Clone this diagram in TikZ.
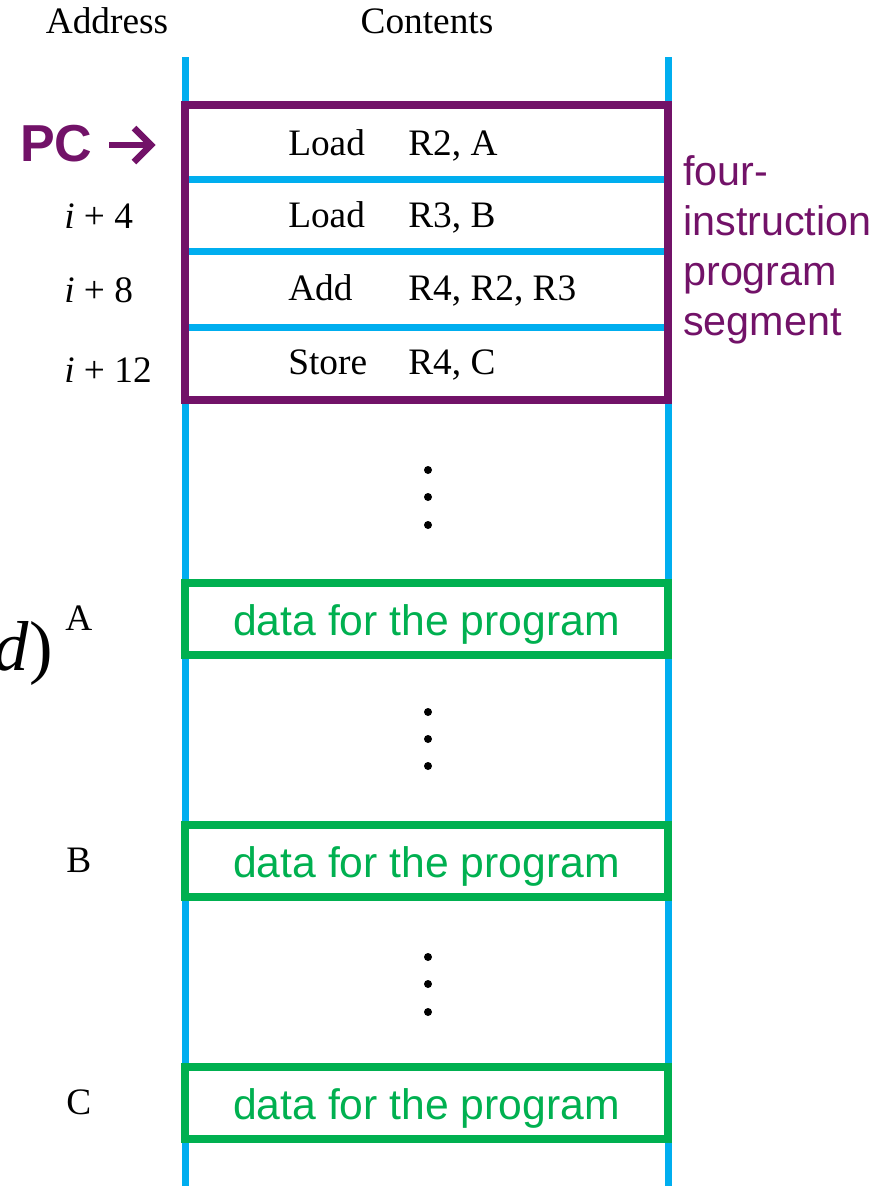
\documentclass[tikz,border=0pt]{standalone}
\usepackage{fontspec}
\setmainfont{Liberation Serif}
\setsansfont{Liberation Sans}
\definecolor{memblue}{RGB}{0,174,239}
\definecolor{segpurple}{RGB}{114,18,104}
\definecolor{datagreen}{RGB}{0,176,80}
\tikzset{
  memline/.style={draw=memblue, line width=5.25pt},
  segbox/.style={draw=segpurple, line width=6pt},
  serif/.style={font=\fontsize{28}{34}\selectfont, inner sep=0pt, anchor=base west},
  databox/.style={draw=datagreen, line width=6pt, minimum width=362.25pt, minimum height=54pt,
    text height=24pt, text depth=0pt, inner sep=0pt, text=datagreen,
    font=\sffamily\fontsize{32}{38}\selectfont},
  pcarrow/.style={draw=segpurple, line width=5pt, miter limit=10},
  memdot/.style={fill=black}
}
\begin{document}
\begin{tikzpicture}[x=0.75pt,y=-0.75pt]
\useasboundingbox (0,0) rectangle (875,1186);
% memory column
\coordinate (lt) at (185,57);
\coordinate (lb) at (185,1190);
\coordinate (rt) at (668,57);
\coordinate (rb) at (668,1190);
\draw[memline] (lt) -- (lb);
\draw[memline] (rt) -- (rb);
\foreach \yy in {179,251,327}{
  \draw[memline] (185,\yy) -- (668,\yy);
}
% headers
\node[serif, anchor=base] (hAddr) at (107,33) {Address};
\node[serif, anchor=base] (hCont) at (427,33) {Contents};
% instructions
\node[serif] (op1) at (288,155) {Load};
\node[serif] (ar1) at (408,155) {R2, A};
\node[serif] (op2) at (288,227) {Load};
\node[serif] (ar2) at (408,227) {R3, B};
\node[serif] (op3) at (288,300) {Add};
\node[serif] (ar3) at (408,300) {R4, R2, R3};
\node[serif] (op4) at (288,374) {Store};
\node[serif] (ar4) at (408,374) {R4, C};
% program segment box
\draw[segbox] (185,105) rectangle (668,400);
% addresses
\node[inner sep=0pt, anchor=base west, text=segpurple, font=\sffamily\bfseries\fontsize{39}{46}\selectfont] (pc) at (20,161) {PC};
\coordinate (pcs) at (109,145);
\coordinate (pce) at (151,145);
\coordinate (pcu) at (134,128);
\coordinate (pcd) at (134,162);
\draw[pcarrow] (pcs) -- (pce);
\draw[pcarrow] (pcu) -- (pce) -- (pcd);
\node[serif] (a4) at (64,228) {\textit{i} + 4};
\node[serif] (a8) at (64,302) {\textit{i} + 8};
\node[serif] (a12) at (64,382) {\textit{i} + 12};
\node[serif] (aA) at (65,630) {A};
\node[serif] (aB) at (66,872) {B};
\node[serif] (aC) at (66,1114) {C};
% side label
\node[inner sep=0pt, anchor=north west, text=segpurple, align=left,
  font=\sffamily\fontsize{31}{37.5}\selectfont] (seglbl) at (683,155)
  {four-\\instruction\\program\\segment};
% data boxes
\node[databox] (dA) at (426.5,619) {data for the program};
\node[databox] (dB) at (426.5,861) {data for the program};
\node[databox] (dC) at (426.5,1103) {data for the program};
% ellipses
\foreach \yy in {470,497,525,712,739,766,957,984,1012}{
  \fill[memdot] (428,\yy) circle[radius=3pt];
}
% cropped fragment at left edge
\node[inner sep=0pt, anchor=base east, font=\fontsize{53}{60}\selectfont] (frag) at (53,670) {\textit{d})};
\end{tikzpicture}
\end{document}
